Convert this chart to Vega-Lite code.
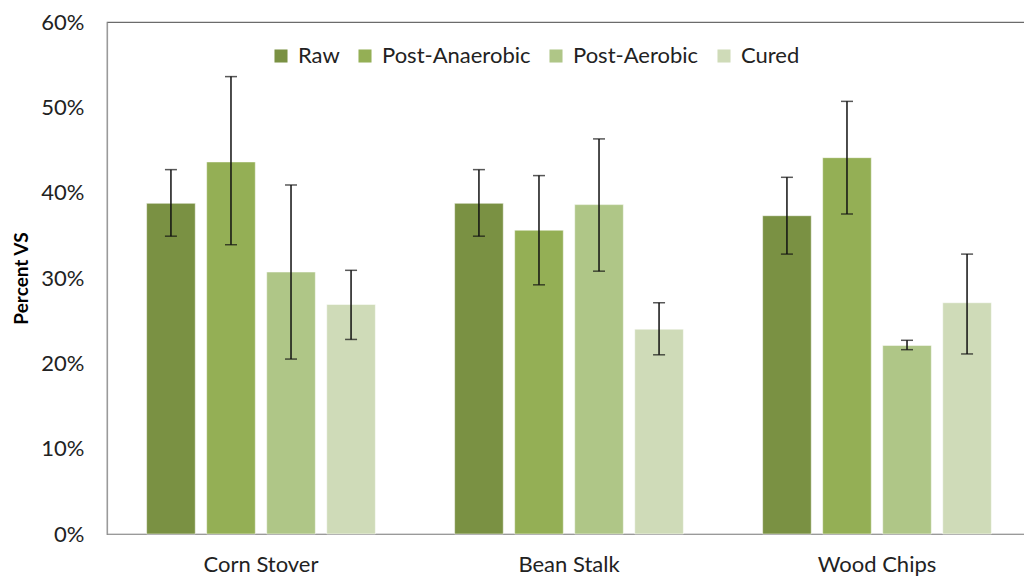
{
  "$schema": "https://vega.github.io/schema/vega-lite/v6.json",
  "width": 924,
  "height": 512,
  "autosize": {"type": "none"},
  "padding": {"left": 107, "top": 22, "right": 0, "bottom": 44},
  "background": "white",
  "config": {
    "font": "Lato",
    "view": {"stroke": "#6b6b6b", "strokeWidth": 1.2},
    "axis": {"grid": false, "labelFont": "Lato", "titleFont": "Lato", "labelColor": "#222", "domainColor": "#9a9a9a", "domainWidth": 1.2}
  },
  "data": {
    "values": [
      {"material": "Corn Stover", "stage": "Raw", "value": 0.3875, "lo": 0.349, "hi": 0.427},
      {"material": "Corn Stover", "stage": "Post-Anaerobic", "value": 0.436, "lo": 0.339, "hi": 0.536},
      {"material": "Corn Stover", "stage": "Post-Aerobic", "value": 0.307, "lo": 0.205, "hi": 0.409},
      {"material": "Corn Stover", "stage": "Cured", "value": 0.269, "lo": 0.228, "hi": 0.309},
      {"material": "Bean Stalk", "stage": "Raw", "value": 0.3875, "lo": 0.349, "hi": 0.427},
      {"material": "Bean Stalk", "stage": "Post-Anaerobic", "value": 0.356, "lo": 0.292, "hi": 0.420},
      {"material": "Bean Stalk", "stage": "Post-Aerobic", "value": 0.386, "lo": 0.308, "hi": 0.463},
      {"material": "Bean Stalk", "stage": "Cured", "value": 0.240, "lo": 0.210, "hi": 0.271},
      {"material": "Wood Chips", "stage": "Raw", "value": 0.373, "lo": 0.328, "hi": 0.418},
      {"material": "Wood Chips", "stage": "Post-Anaerobic", "value": 0.441, "lo": 0.375, "hi": 0.507},
      {"material": "Wood Chips", "stage": "Post-Aerobic", "value": 0.221, "lo": 0.216, "hi": 0.227},
      {"material": "Wood Chips", "stage": "Cured", "value": 0.271, "lo": 0.211, "hi": 0.328}
    ]
  },
  "encoding": {
    "x": {
      "field": "material", "type": "nominal",
      "sort": ["Corn Stover", "Bean Stalk", "Wood Chips"],
      "scale": {"paddingInner": 0, "paddingOuter": 0},
      "axis": {"title": null, "labelAngle": 0, "ticks": false, "labelPadding": 20, "labelFontSize": 22, "labelBaseline": "top"}
    },
    "xOffset": {
      "field": "stage", "type": "nominal",
      "sort": ["Raw", "Post-Anaerobic", "Post-Aerobic", "Cured"],
      "scale": {"paddingInner": 0.19, "paddingOuter": 0.66}
    }
  },
  "layer": [
    {
      "mark": {"type": "bar", "stroke": "#ffffff", "strokeOpacity": 0.5, "strokeWidth": 1},
      "encoding": {
        "y": {
          "field": "value", "type": "quantitative",
          "scale": {"domain": [0, 0.6], "nice": false},
          "axis": {"format": ".0%", "values": [0, 0.1, 0.2, 0.3, 0.4, 0.5, 0.6], "ticks": false, "labelPadding": 23, "labelFontSize": 22, "title": "Percent VS", "titleFontSize": 19, "titleFontWeight": "bold", "titleColor": "#000", "titlePadding": 9}
        },
        "color": {
          "field": "stage", "type": "nominal",
          "sort": ["Raw", "Post-Anaerobic", "Post-Aerobic", "Cured"],
          "scale": {"domain": ["Raw", "Post-Anaerobic", "Post-Aerobic", "Cured"], "range": ["#7a9143", "#94af55", "#afc687", "#cfdbb8"]},
          "legend": {"title": null, "orient": "none", "direction": "horizontal", "legendX": 163, "legendY": 23, "symbolType": "square", "symbolSize": 170, "symbolStrokeWidth": 0, "labelFontSize": 22, "labelColor": "#222", "columnPadding": 14, "labelOffset": 6}
        }
      }
    },
    {
      "mark": {"type": "rule", "color": "#111", "strokeWidth": 1.5},
      "encoding": {
        "y": {"field": "lo", "type": "quantitative"},
        "y2": {"field": "hi"}
      }
    },
    {
      "mark": {"type": "tick", "color": "#111", "size": 12, "thickness": 1.5},
      "encoding": {"y": {"field": "lo", "type": "quantitative"}}
    },
    {
      "mark": {"type": "tick", "color": "#111", "size": 12, "thickness": 1.5},
      "encoding": {"y": {"field": "hi", "type": "quantitative"}}
    }
  ]
}
